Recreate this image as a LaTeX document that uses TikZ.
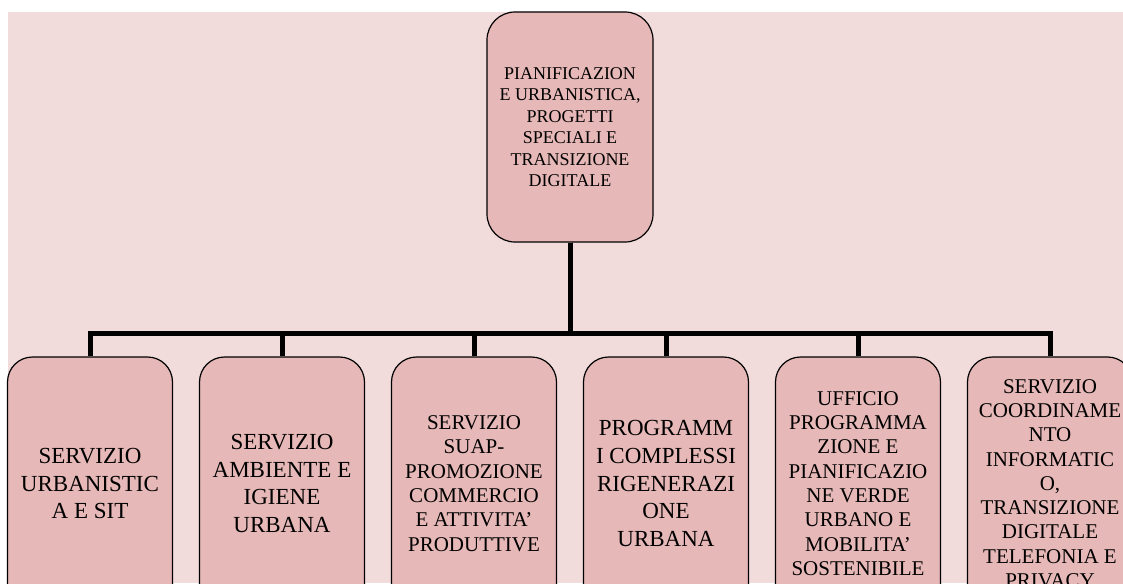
\documentclass[tikz,border=0pt]{standalone}
\usepackage{fontspec}
\setmainfont{Liberation Serif}
\usepackage{tikz}
\definecolor{pagepink}{RGB}{242,220,219}
\definecolor{boxpink}{RGB}{230,184,183}
\tikzset{%
  orgchart/.style = {
    grow=down, level distance=356.5pt, sibling distance=192pt,
    every node/.style = {shape=rectangle, rounded corners=25pt,
      draw, line width=1.2pt, align=center, fill=boxpink,
      text=black, inner sep=3pt},
    edge from parent/.style = {draw, line width=5pt},
    edge from parent path = {(\tikzparentnode.south) -- ++(0,-91pt)
      -| (\tikzchildnode.north)}
  },
  headbox/.style = {minimum width=166pt, minimum height=230pt,
    rounded corners=28pt, font=\fontsize{18}{21.5}\selectfont},
  officebox/.style = {minimum width=165pt, minimum height=253pt},
  bigfont/.style = {font=\fontsize{23}{27.7}\selectfont},
  smallfont/.style = {font=\fontsize{21}{24.3}\selectfont}
}
\begin{document}
\begin{tikzpicture}[x=1pt, y=1pt, orgchart]
  \useasboundingbox (0,0) rectangle (1123,-583);
  \clip (0,0) rectangle (1123,-583);
  \fill[pagepink] (8,-12) rectangle (1123,-583);
	    \node[headbox] (dept) at (570,-127)
	      {PIANIFICAZION\\E URBANISTICA,\\PROGETTI\\SPECIALI E\\TRANSIZIONE\\DIGITALE}
	    child {
	      node[officebox, bigfont] (urb) {SERVIZIO\\URBANISTIC\\A E SIT}
	    }
	    child {
	      node[officebox, bigfont] (amb) {SERVIZIO\\AMBIENTE E\\IGIENE\\URBANA}
	    }
	    child {
	      node[officebox, smallfont] (suap)
		{SERVIZIO\\SUAP-\\PROMOZIONE\\COMMERCIO\\E ATTIVITA’\\PRODUTTIVE}
	    }
	    child {
	      node[officebox, bigfont] (prog)
		{PROGRAMM\\I COMPLESSI\\RIGENERAZI\\ONE\\URBANA}
	    }
	    child {
	      node[officebox, smallfont] (verde)
		{UFFICIO\\PROGRAMMA\\ZIONE E\\PIANIFICAZIO\\NE VERDE\\URBANO E\\MOBILITA’\\SOSTENIBILE}
	    }
	    child {
	      node[officebox, smallfont] (info)
		{SERVIZIO\\COORDINAME\\NTO\\INFORMATIC\\O,\\TRANSIZIONE\\DIGITALE\\TELEFONIA E\\PRIVACY}
	    };
\end{tikzpicture}
\end{document}
